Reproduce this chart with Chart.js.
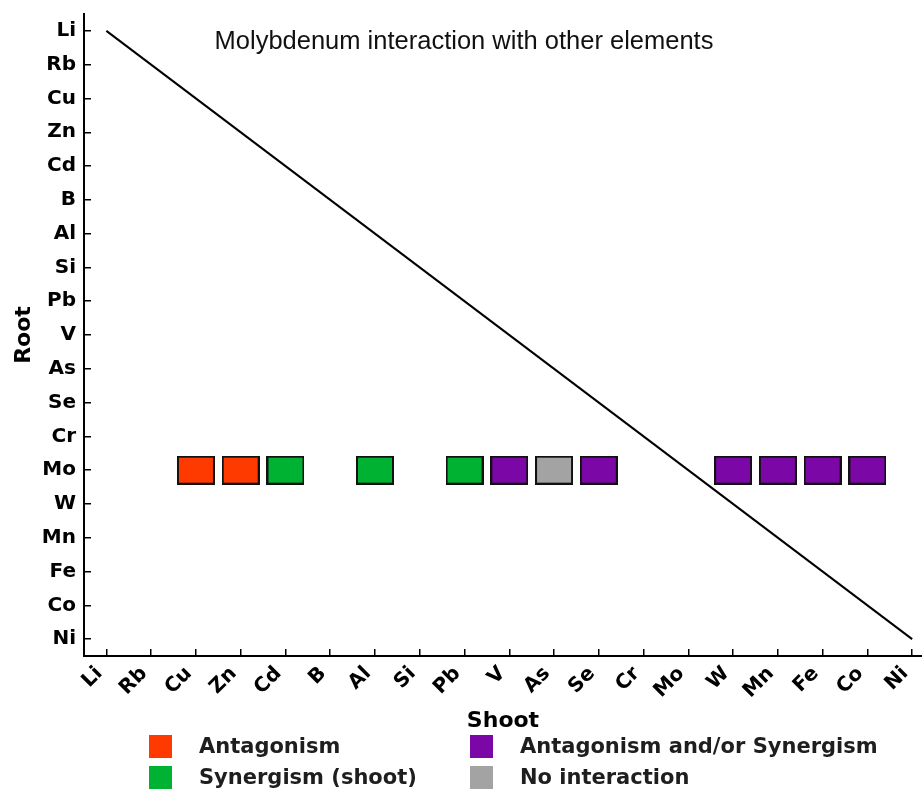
<!DOCTYPE html>
<html>
<head>
<meta charset="utf-8">
<script src="https://cdn.jsdelivr.net/npm/chart.js@4.4.0/dist/chart.umd.min.js"></script>
<style>
  body { margin: 0; background: #fff; }
  #wrap { position: relative; width: 922px; height: 789px; overflow: hidden; }
  #legend { position: absolute; left: 0; top: 0; width: 922px; height: 789px; pointer-events: none;
            font-family: "DejaVu Sans", sans-serif; font-weight: bold; font-size: 21px; color: #1e1e1e; }
  .item { position: absolute; height: 23px; line-height: 23px; white-space: nowrap; }
  .item i { position: absolute; left: 0; top: 0; width: 23px; height: 23px; }
  .item span { position: absolute; left: 50px; top: 0; }
</style>
</head>
<body>
<div id="wrap">
  <canvas id="chart" width="922" height="789"></canvas>
  <div id="legend"></div>
</div>
<script>
// element order on both axes (root = y, shoot = x)
var elements = ["Li", "Rb", "Cu", "Zn", "Cd", "B", "Al", "Si", "Pb", "V", "As", "Se", "Cr", "Mo", "W", "Mn", "Fe", "Co", "Ni"];
var rootElement = "Mo";

// shoot elements interacting with Mo, by type
var antagonism = ["Cu", "Zn"];
var synergism = ["Cd", "Al", "Pb"];
var mixed = ["V", "Se", "W", "Mn", "Fe", "Co"];
var noInteraction = ["As"];

var legendLabels = ["Antagonism", "Synergism (shoot)", "Antagonism and/or Synergism", "No interaction"];
var colors = ["#ff3a00", "#00b232", "#7b08a6", "#a3a3a3"];

function toPoints(list) {
    return list.map(function (e) {
        return { x: elements.indexOf(e), y: elements.indexOf(rootElement) };
    });
}

function makeBox(color) {
    var c = document.createElement("canvas");
    c.width = 38; c.height = 29;
    var g = c.getContext("2d");
    g.fillStyle = color;
    g.fillRect(1, 1, 36, 27);
    g.lineWidth = 2;
    g.strokeStyle = "#111";
    g.strokeRect(1, 1, 36, 27);
    return c;
}

// radius kept tiny: the box image has its own size
function boxSet(label, list, color) {
    return {
        type: "scatter",
        label: label,
        data: toPoints(list),
        pointStyle: makeBox(color),
        pointRadius: 0.5,
        pointBorderWidth: 0,
        showLine: false,
        clip: false
    };
}

var diagonal = [
    { x: 0, y: 0 },
    { x: elements.length - 1, y: elements.length - 1 }
];

var tickFont = { family: "DejaVu Sans", size: 20, weight: "bold" };
var titleFont = { family: "DejaVu Sans", size: 22, weight: "bold" };

function allTicks(scale) {
    scale.ticks = elements.map(function (e, i) { return { value: i }; });
}

// stop the tick labels from pushing the plot area in
function noPad(s) {
    s.paddingLeft = 0; s.paddingRight = 0;
    s.paddingTop = 0; s.paddingBottom = 0;
}

var plotTitle = {
    id: "plotTitle",
    afterDraw: function (chart) {
        var ctx = chart.ctx;
        ctx.save();
        ctx.font = '25.5px "Liberation Sans", Arial, sans-serif';
        ctx.fillStyle = "#111";
        ctx.textAlign = "center";
        ctx.textBaseline = "middle";
        ctx.fillText("Molybdenum interaction with other elements", chart.chartArea.left + 380, chart.chartArea.top + 28);
        ctx.restore();
    }
};

var ctx = document.getElementById("chart").getContext("2d");
var chart = new Chart(ctx, {
    type: "scatter",
    data: {
        datasets: [
            {
                type: "line",
                label: "diagonal",
                data: diagonal,
                borderColor: "#000",
                borderWidth: 2,
                pointRadius: 0,
                pointBorderWidth: 0,
                fill: false,
                clip: false
            },
            boxSet(legendLabels[0], antagonism, colors[0]),
            boxSet(legendLabels[1], synergism, colors[1]),
            boxSet(legendLabels[2], mixed, colors[2]),
            boxSet(legendLabels[3], noInteraction, colors[3])
        ]
    },
    options: {
        responsive: false,
        animation: false,
        layout: { autoPadding: false, padding: { top: 14, bottom: 55, left: 0, right: 0 } },
        plugins: {
            legend: { display: false },
            tooltip: { enabled: false }
        },
        scales: {
            x: {
                type: "linear",
                min: -0.5,
                max: 18.22,
                afterBuildTicks: allTicks,
                afterFit: function (s) {
                    s.height = 78;
                    noPad(s);
                },
                border: { color: "#000", width: 2 },
                grid: { drawOnChartArea: false, tickLength: -7, color: "#000", lineWidth: 1.5 },
                ticks: {
                    autoSkip: false,
                    maxRotation: 45,
                    minRotation: 45,
                    padding: 13,
                    labelOffset: -7,
                    color: "#000",
                    font: tickFont,
                    callback: function (v) { return elements[v]; }
                },
                title: { display: true, text: "Shoot", color: "#000", font: titleFont, padding: { top: 0, bottom: 0 } }
            },
            y: {
                type: "linear",
                reverse: true,
                min: -0.5,
                max: 18.5,
                afterBuildTicks: allTicks,
                afterFit: function (s) {
                    s.width = 84;
                    noPad(s);
                },
                border: { color: "#000", width: 2 },
                grid: { drawOnChartArea: false, tickLength: -7, color: "#000", lineWidth: 1.5 },
                ticks: {
                    autoSkip: false,
                    padding: 15,
                    color: "#000",
                    font: tickFont,
                    callback: function (v) { return elements[v]; }
                },
                title: { display: true, text: "Root", color: "#000", font: titleFont, padding: { top: 11, bottom: 0 } }
            }
        }
    },
    plugins: [plotTitle]
});

// two-column legend under the axis title
var legendPos = [
    { left: 149, top: 735 },
    { left: 149, top: 766 },
    { left: 470, top: 735 },
    { left: 470, top: 766 }
];
var legend = document.getElementById("legend");
legendLabels.forEach(function (lab, i) {
    var d = document.createElement("div");
    d.className = "item";
    d.style.left = legendPos[i].left + "px";
    d.style.top = legendPos[i].top + "px";
    d.innerHTML = '<i style="background:' + colors[i] + '"></i><span>' + lab + '</span>';
    legend.appendChild(d);
});
</script>
</body>
</html>
